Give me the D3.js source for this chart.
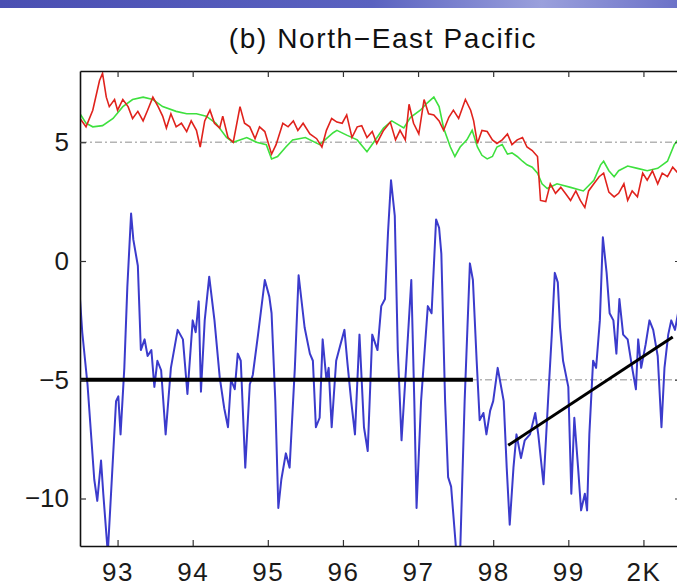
<!DOCTYPE html>
<html>
<head>
<meta charset="utf-8">
<script src="https://cdn.jsdelivr.net/npm/d3@7"></script>
<style>
  body { margin: 0; background: #fff; }
  svg { display: block; font-family: "Liberation Sans", Arial, sans-serif; }
</style>
</head>
<body>
<div id="chart"></div>
<script>
// [year, value]
const blueSeries = [
  [1992.50,-1.6],[1992.53,-3.0],[1992.60,-5.2],[1992.69,-9.2],[1992.73,-10.1],[1992.78,-8.4],
  [1992.81,-9.8],[1992.87,-12.3],[1992.98,-5.9],[1993.01,-5.7],[1993.04,-7.3],[1993.09,-4.5],
  [1993.13,-1.1],[1993.18,2.0],[1993.21,0.9],[1993.27,-0.2],[1993.31,-3.75],[1993.36,-3.3],
  [1993.40,-4.0],[1993.45,-3.75],[1993.49,-5.3],[1993.53,-4.2],[1993.58,-4.6],[1993.64,-7.3],
  [1993.71,-4.5],[1993.80,-2.9],[1993.87,-3.3],[1993.93,-5.6],[1994.00,-2.5],[1994.04,-3.0],
  [1994.08,-1.7],[1994.11,-5.5],[1994.16,-2.5],[1994.22,-0.66],[1994.29,-2.5],[1994.36,-4.9],
  [1994.42,-6.2],[1994.47,-7.0],[1994.51,-5.0],[1994.56,-5.4],[1994.60,-3.9],[1994.64,-4.2],
  [1994.70,-8.7],[1994.76,-5.2],[1994.80,-4.8],[1994.87,-3.1],[1994.96,-0.8],[1995.02,-1.5],
  [1995.05,-2.2],[1995.10,-5.9],[1995.14,-10.4],[1995.18,-9.2],[1995.24,-8.1],[1995.29,-8.7],
  [1995.36,-4.5],[1995.41,-0.6],[1995.49,-2.8],[1995.56,-3.9],[1995.60,-4.2],[1995.64,-7.0],
  [1995.69,-6.6],[1995.73,-3.3],[1995.78,-5.0],[1995.81,-4.5],[1995.85,-7.0],[1995.91,-4.2],
  [1995.96,-3.6],[1996.02,-2.9],[1996.06,-4.3],[1996.11,-5.9],[1996.16,-7.3],[1996.22,-3.1],
  [1996.28,-7.0],[1996.33,-8.0],[1996.39,-3.1],[1996.46,-3.75],[1996.51,-1.9],[1996.56,-1.6],
  [1996.60,1.2],[1996.64,3.4],[1996.69,1.9],[1996.73,-3.75],[1996.78,-7.55],[1996.84,-4.5],
  [1996.91,-0.8],[1996.95,-5.9],[1996.98,-10.4],[1997.04,-5.9],[1997.13,-1.9],[1997.18,-2.2],
  [1997.24,1.75],[1997.28,1.4],[1997.31,0.3],[1997.36,-5.9],[1997.40,-9.1],[1997.44,-9.5],
  [1997.51,-12.3],[1997.56,-12.3],[1997.62,-5.9],[1997.69,-0.1],[1997.73,-0.8],[1997.78,-4.2],
  [1997.82,-6.7],[1997.87,-6.4],[1997.91,-7.3],[1997.96,-6.3],[1998.00,-5.9],[1998.06,-4.5],
  [1998.10,-5.2],[1998.14,-5.9],[1998.18,-8.7],[1998.22,-11.1],[1998.27,-8.7],[1998.31,-7.3],
  [1998.37,-8.3],[1998.42,-7.55],[1998.49,-7.3],[1998.56,-6.4],[1998.60,-7.3],[1998.67,-9.4],
  [1998.73,-5.9],[1998.78,-3.1],[1998.82,-0.5],[1998.86,-0.9],[1998.89,-2.8],[1998.93,-4.2],
  [1999.00,-5.3],[1999.04,-9.8],[1999.08,-6.6],[1999.13,-8.7],[1999.17,-10.5],[1999.22,-9.8],
  [1999.25,-10.5],[1999.28,-7.3],[1999.33,-4.2],[1999.37,-4.5],[1999.42,-2.5],[1999.46,1.0],
  [1999.51,-0.5],[1999.55,-2.2],[1999.60,-2.5],[1999.64,-3.9],[1999.68,-1.6],[1999.73,-3.1],
  [1999.79,-3.3],[1999.85,-4.5],[1999.90,-5.4],[1999.93,-3.3],[1999.97,-4.5],[2000.03,-3.5],
  [2000.08,-2.5],[2000.13,-2.9],[2000.19,-4.0],[2000.24,-7.0],[2000.28,-4.5],[2000.33,-3.1],
  [2000.37,-2.5],[2000.42,-2.9],[2000.46,-2.2]
];

const redSeries = [
  [1992.50,6.0],[1992.58,5.65],[1992.67,6.35],[1992.76,7.6],[1992.80,7.9],[1992.85,6.9],
  [1992.89,6.5],[1992.96,6.8],[1993.00,6.35],[1993.07,6.8],[1993.14,6.5],[1993.20,6.0],
  [1993.27,6.3],[1993.34,5.9],[1993.40,6.35],[1993.47,6.9],[1993.54,6.5],[1993.60,6.1],
  [1993.65,5.6],[1993.71,6.2],[1993.78,5.65],[1993.85,5.8],[1993.92,5.45],[1993.98,5.9],
  [1994.05,5.5],[1994.10,4.8],[1994.16,5.9],[1994.23,6.35],[1994.29,5.8],[1994.36,5.6],
  [1994.40,6.1],[1994.47,5.2],[1994.54,5.0],[1994.63,6.5],[1994.69,5.8],[1994.76,5.65],
  [1994.83,5.15],[1994.89,5.65],[1994.96,5.45],[1995.05,4.5],[1995.11,4.9],[1995.20,5.8],
  [1995.27,5.65],[1995.34,5.9],[1995.40,5.5],[1995.47,5.8],[1995.56,5.35],[1995.65,5.15],
  [1995.72,4.8],[1995.78,5.5],[1995.85,6.0],[1995.92,5.85],[1995.99,5.8],[1996.05,6.15],
  [1996.12,5.2],[1996.19,5.65],[1996.25,5.7],[1996.32,5.2],[1996.39,5.45],[1996.45,4.95],
  [1996.54,5.5],[1996.63,5.85],[1996.70,5.1],[1996.76,5.5],[1996.83,5.1],[1996.88,6.6],
  [1996.94,5.8],[1997.01,5.35],[1997.08,6.8],[1997.14,6.2],[1997.21,6.15],[1997.28,5.9],
  [1997.34,5.5],[1997.41,6.05],[1997.47,6.35],[1997.54,6.0],[1997.63,6.8],[1997.70,6.35],
  [1997.74,5.9],[1997.79,4.95],[1997.85,5.5],[1997.92,5.45],[1997.99,5.1],[1998.05,4.95],
  [1998.12,5.1],[1998.19,5.35],[1998.25,4.9],[1998.32,5.1],[1998.39,5.2],[1998.45,4.8],
  [1998.52,4.65],[1998.59,4.4],[1998.63,2.55],[1998.70,2.5],[1998.76,3.25],[1998.83,2.85],
  [1998.90,3.1],[1998.96,2.85],[1999.03,2.55],[1999.10,2.95],[1999.16,2.55],[1999.22,2.25],
  [1999.27,2.95],[1999.34,3.25],[1999.41,3.55],[1999.47,3.7],[1999.54,2.9],[1999.61,2.7],
  [1999.67,2.85],[1999.74,3.25],[1999.79,2.55],[1999.85,2.95],[1999.92,2.7],[1999.99,3.7],
  [2000.05,3.4],[2000.12,3.8],[2000.19,3.25],[2000.25,3.7],[2000.32,3.55],[2000.39,3.95],
  [2000.46,3.7]
];

const greenSeries = [
  [1992.50,6.2],[1992.58,5.8],[1992.67,5.65],[1992.80,5.7],[1992.94,6.0],[1993.07,6.5],
  [1993.20,6.8],[1993.34,6.9],[1993.47,6.8],[1993.60,6.5],[1993.78,6.3],[1993.92,6.2],
  [1994.05,6.2],[1994.18,6.1],[1994.31,5.8],[1994.45,5.2],[1994.54,5.0],[1994.72,5.2],
  [1994.85,5.0],[1994.98,4.9],[1995.05,4.3],[1995.13,4.4],[1995.24,4.8],[1995.33,5.1],
  [1995.50,5.2],[1995.69,4.9],[1995.87,5.4],[1995.92,5.5],[1996.05,5.3],[1996.19,5.1],
  [1996.32,4.6],[1996.41,5.0],[1996.54,5.6],[1996.65,5.9],[1996.81,5.6],[1996.90,6.05],
  [1997.03,6.35],[1997.12,6.65],[1997.21,6.9],[1997.28,6.5],[1997.34,5.6],[1997.43,4.8],
  [1997.49,4.4],[1997.56,4.8],[1997.65,5.1],[1997.72,5.5],[1997.79,4.8],[1997.85,4.45],
  [1997.92,4.3],[1997.99,4.4],[1998.05,4.8],[1998.12,4.9],[1998.19,4.5],[1998.25,4.55],
  [1998.32,4.4],[1998.39,4.2],[1998.45,4.05],[1998.52,3.95],[1998.59,3.7],[1998.65,3.25],
  [1998.72,3.05],[1998.85,3.25],[1999.03,3.1],[1999.20,2.95],[1999.34,3.4],[1999.43,4.05],
  [1999.47,4.2],[1999.54,3.8],[1999.61,3.55],[1999.67,3.8],[1999.79,4.0],[1999.92,3.9],
  [2000.05,3.8],[2000.19,3.9],[2000.32,4.2],[2000.41,4.9],[2000.46,5.1]
];

// black trend segments: [[t0, v0], [t1, v1]]
const trendLines = [
  [[1992.5, -5.0], [1997.73, -5.0]],
  [[1998.2, -7.76], [2000.39, -3.2]]
];
const refLevels = [5, -5];

const xTicks = [1993, 1994, 1995, 1996, 1997, 1998, 1999, 2000];
const xTickLabels = ["93", "94", "95", "96", "97", "98", "99", "2K"];
const yTicks = [5, 0, -5, -10];
const yTickLabels = ["5", "0", "\u22125", "\u221210"];
const titleText = "(b) North\u2212East Pacific";

const width = 677, height = 587;
const margin = {left: 80, right: 681, top: 71, bottom: 546};

const svg = d3.select("#chart").append("svg")
  .attr("width", width)
  .attr("height", height);

// slide header strip
const defs = svg.append("defs");
const grad = defs.append("linearGradient").attr("id", "hdr");
grad.append("stop").attr("offset", "0%").attr("stop-color", "#4a4fb2");
grad.append("stop").attr("offset", "55%").attr("stop-color", "#5a62c0");
grad.append("stop").attr("offset", "80%").attr("stop-color", "#9aa0dc");
grad.append("stop").attr("offset", "100%").attr("stop-color", "#6c72c8");
svg.append("rect").attr("x", 0).attr("y", 0).attr("width", width).attr("height", 8)
  .attr("fill", "url(#hdr)");

defs.append("clipPath").attr("id", "plotclip")
  .append("rect").attr("x", margin.left).attr("y", margin.top)
  .attr("width", margin.right - margin.left).attr("height", margin.bottom - margin.top);

const x = d3.scaleLinear().domain([1992.5, 2000.5]).range([margin.left, margin.right]);
const y = d3.scaleLinear().domain([-12, 8]).range([margin.bottom, margin.top]);

// dash-dot reference lines
svg.append("g").selectAll("line")
  .data(refLevels)
  .enter().append("line")
  .attr("x1", margin.left).attr("x2", margin.right)
  .attr("y1", d => y(d)).attr("y2", d => y(d))
  .attr("stroke", "#b4b4b4")
  .attr("stroke-width", 1.5)
  .attr("stroke-dasharray", "7,3,2,3");

const line = d3.line().x(d => x(d[0])).y(d => y(d[1]));
const plot = svg.append("g").attr("clip-path", "url(#plotclip)");

plot.append("path").datum(greenSeries)
  .attr("fill", "none").attr("stroke", "#3ee03e").attr("stroke-width", 1.6)
  .attr("d", line);
plot.append("path").datum(redSeries)
  .attr("fill", "none").attr("stroke", "#e0221c").attr("stroke-width", 1.6)
  .attr("d", line);
plot.append("path").datum(blueSeries)
  .attr("fill", "none").attr("stroke", "#3b3bcc").attr("stroke-width", 2)
  .attr("stroke-linejoin", "round")
  .attr("d", line);

plot.selectAll(".trend")
  .data(trendLines)
  .enter().append("path")
  .attr("class", "trend")
  .attr("fill", "none")
  .attr("stroke", "#000")
  .attr("stroke-width", (d, i) => i == 0 ? 4 : 3)
  .attr("d", line);

// axes, matlab style: ticks inside, box on top/left/bottom
const tickLen = 6;
const fmtX = (d, i) => xTickLabels[i];

const xb = svg.append("g")
  .attr("transform", "translate(0," + margin.bottom + ")")
  .call(d3.axisBottom(x).tickValues(xTicks).tickSizeInner(-tickLen).tickSizeOuter(0)
    .tickPadding(17).tickFormat(fmtX));
const xt = svg.append("g")
  .attr("transform", "translate(0," + margin.top + ")")
  .call(d3.axisTop(x).tickValues(xTicks).tickSizeInner(-tickLen).tickSizeOuter(0)
    .tickFormat(""));
const yl = svg.append("g")
  .attr("transform", "translate(" + margin.left + ",0)")
  .call(d3.axisLeft(y).tickValues(yTicks).tickSizeInner(-tickLen).tickSizeOuter(0)
    .tickPadding(11).tickFormat((d, i) => yTickLabels[i]));
const yr = svg.append("g")
  .attr("transform", "translate(" + margin.right + ",0)")
  .call(d3.axisRight(y).tickValues(yTicks).tickSizeInner(-tickLen).tickSizeOuter(0)
    .tickFormat(""));

[xb, xt, yl, yr].forEach(g => {
  g.select(".domain").attr("stroke", "#111").attr("stroke-width", 1.6);
  g.selectAll(".tick line").attr("stroke", "#333").attr("stroke-width", 1.2);
  g.selectAll("text").attr("fill", "#1a1a1a").style("font-size", "26px")
    .style("font-family", "'Liberation Sans', Arial, sans-serif");
});
xb.selectAll("text").style("letter-spacing", "1.5px");

svg.append("text")
  .attr("x", 383).attr("y", 48)
  .attr("text-anchor", "middle")
  .attr("fill", "#111")
  .style("font-size", "28px")
  .style("letter-spacing", "1.6px")
  .text(titleText);
</script>
</body>
</html>
